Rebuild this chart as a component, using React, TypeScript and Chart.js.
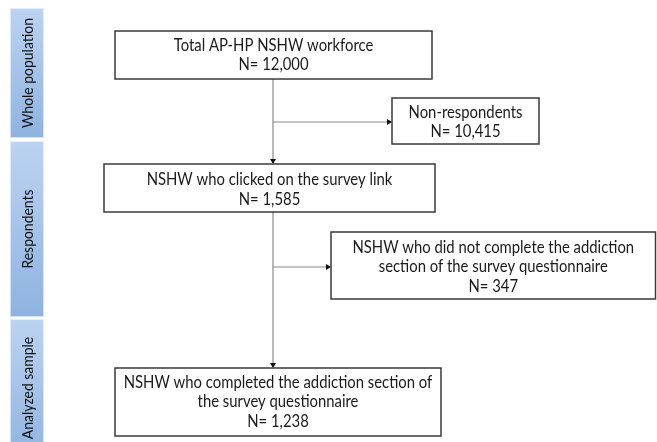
import React, { useEffect, useRef } from "react";
import { Chart, registerables } from "chart.js";

Chart.register(...registerables);

// ---- data ----
const stageLabels = ["Whole population", "Respondents", "Analyzed sample"];
const boxTitles = [
  ["Total AP-HP NSHW workforce"],
  ["Non-respondents"],
  ["NSHW who clicked on the survey link"],
  ["NSHW who did not complete the addiction", "section of the survey questionnaire"],
  ["NSHW who completed the addiction section of", "the survey questionnaire"],
];
const boxCounts = [12000, 10415, 1585, 347, 1238];

// ---- layout (scale units, y grows downward) ----
const stageLayout = [
  { y0: 8, y1: 138 },
  { y0: 141, y1: 317 },
  { y0: 319, y1: 460 },
];
const boxLayout = [
  { x0: 115, x1: 432, y0: 31, y1: 79, cy: 55 },
  { x0: 392, x1: 539, y0: 98, y1: 144, cy: 122 },
  { x0: 104, x1: 435, y0: 164, y1: 212, cy: 189.5 },
  { x0: 331, x1: 655.5, y0: 232, y1: 299, cy: 267 },
  { x0: 115, x1: 441, y0: 368, y1: 436, cy: 402 },
];
const mainX = 273;

const scaledText = (ctx: any, t: string, x: number, y: number, sx: number) => {
  ctx.save();
  ctx.translate(x, y);
  ctx.scale(sx, 1);
  ctx.fillText(t, 0, 0);
  ctx.restore();
};

const flowPlugin = {
  id: "flow",
  afterDraw(chart: any) {
    const { ctx } = chart;
    const xs = chart.scales.x;
    const ys = chart.scales.y;
    const X = (v: number) => xs.getPixelForValue(v);
    const Y = (v: number) => ys.getPixelForValue(v);
    ctx.save();

    // side stage bars
    stageLayout.forEach((s, i) => {
      const x0 = X(10), x1 = X(44);
      const g = ctx.createLinearGradient(0, Y(s.y0), 0, Y(s.y1));
      g.addColorStop(0, "#bcd3f1");
      g.addColorStop(1, "#8fb3e0");
      ctx.fillStyle = g;
      ctx.fillRect(x0, Y(s.y0), x1 - x0, Y(s.y1) - Y(s.y0));
      ctx.strokeStyle = "rgba(255,255,255,0.6)";
      ctx.lineWidth = 1;
      ctx.strokeRect(x0 + 0.5, Y(s.y0) + 0.5, x1 - x0 - 1, Y(s.y1) - Y(s.y0) - 1);
      ctx.save();
      const cy = i === 2 ? Y(388) : (Y(s.y0) + Y(s.y1)) / 2;
      ctx.translate((x0 + x1) / 2 + 1, cy);
      ctx.rotate(-Math.PI / 2);
      ctx.fillStyle = "#111";
      ctx.font = "15.5px Lato, 'Open Sans', sans-serif";
      ctx.textAlign = "center";
      ctx.textBaseline = "middle";
      scaledText(ctx, stageLabels[i], 0, 0, 0.9);
      ctx.restore();
    });

    // connectors
    ctx.strokeStyle = "#8a8a8a";
    ctx.lineWidth = 1.2;
    const line = (ax: number, ay: number, bx: number, by: number) => {
      ctx.beginPath();
      ctx.moveTo(X(ax), Y(ay));
      ctx.lineTo(X(bx), Y(by));
      ctx.stroke();
    };
    const arrowDown = (ax: number, ay: number) => {
      ctx.fillStyle = "#111";
      ctx.beginPath();
      ctx.moveTo(X(ax), Y(ay));
      ctx.lineTo(X(ax) - 3, Y(ay) - 5);
      ctx.lineTo(X(ax) + 3, Y(ay) - 5);
      ctx.closePath();
      ctx.fill();
    };
    const arrowRight = (ax: number, ay: number) => {
      ctx.fillStyle = "#111";
      ctx.beginPath();
      ctx.moveTo(X(ax), Y(ay));
      ctx.lineTo(X(ax) - 5, Y(ay) - 3);
      ctx.lineTo(X(ax) - 5, Y(ay) + 3);
      ctx.closePath();
      ctx.fill();
    };
    line(mainX, boxLayout[0].y1, mainX, boxLayout[2].y0 - 1);
    arrowDown(mainX, boxLayout[2].y0);
    line(mainX, boxLayout[1].cy, boxLayout[1].x0 - 1, boxLayout[1].cy);
    arrowRight(boxLayout[1].x0, boxLayout[1].cy);
    line(mainX, boxLayout[2].y1, mainX, boxLayout[4].y0 - 1);
    arrowDown(mainX, boxLayout[4].y0);
    line(mainX, boxLayout[3].cy, boxLayout[3].x0 - 1, boxLayout[3].cy);
    arrowRight(boxLayout[3].x0, boxLayout[3].cy);

    // boxes
    boxLayout.forEach((b, i) => {
      const x0 = X(b.x0), x1 = X(b.x1), y0 = Y(b.y0), y1 = Y(b.y1);
      ctx.fillStyle = "#ffffff";
      ctx.fillRect(x0, y0, x1 - x0, y1 - y0);
      ctx.strokeStyle = "#3a3a3a";
      ctx.lineWidth = 1.5;
      ctx.strokeRect(x0, y0, x1 - x0, y1 - y0);
      const lines = [...boxTitles[i], "N= " + boxCounts[i].toLocaleString("en-US")];
      ctx.fillStyle = "#1a1a1a";
      ctx.font = "16.5px Lato, 'Open Sans', sans-serif";
      ctx.textAlign = "center";
      ctx.textBaseline = "middle";
      const lh = 19.5;
      const cx = (x0 + x1) / 2;
      const cy = Y(b.cy);
      lines.forEach((t, k) => {
        scaledText(ctx, t, cx, cy + (k - (lines.length - 1) / 2) * lh, 0.9);
      });
    });
    ctx.restore();
  },
};

export default function App() {
  const ref = useRef<HTMLCanvasElement>(null);
  useEffect(() => {
    if (!ref.current) return;
    const chart = new Chart(ref.current, {
      type: "scatter",
      data: { datasets: [{ data: boxCounts.map(() => ({ x: -10, y: -10 })), pointRadius: 0 }] },
      options: {
        animation: false,
        responsive: false,
        events: [],
        layout: { padding: 0 },
        plugins: { legend: { display: false }, tooltip: { enabled: false } },
        scales: {
          x: { type: "linear", min: 0, max: 657, display: false },
          y: { type: "linear", min: 0, max: 442, reverse: true, display: false },
        },
      },
      plugins: [flowPlugin],
    });
    return () => chart.destroy();
  }, []);
  return (
    <div style={{ position: "fixed", left: 0, top: 0, width: 657, height: 442, background: "#fff" }}>
      <canvas ref={ref} width={657} height={442} style={{ display: "block" }} />
    </div>
  );
}
